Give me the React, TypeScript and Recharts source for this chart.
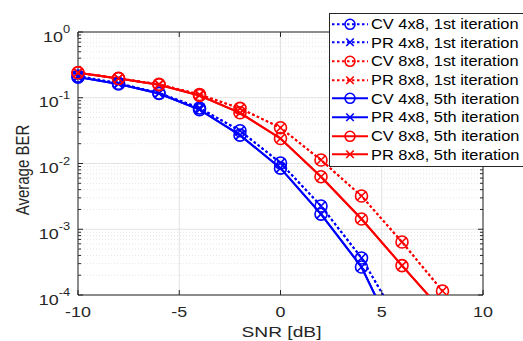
import React from 'react';
import {
  LineChart, Line, XAxis, YAxis, CartesianGrid, ReferenceLine, ReferenceArea, Label,
} from 'recharts';

const FONT = '"Liberation Sans", Arial, Helvetica, sans-serif';
const AXIS = '#262626';
const STRETCH = 1.28;
const PLOT_W = 405;
const PLOT_H = 263;

// SNR in dB
const snr = [-10, -8, -6, -4, -2, 0, 2, 4, 6, 8];

// average BER (CV and PR overlap)
const cv4_1st = [0.214, 0.166, 0.118, 0.07, 0.0315, 0.0102, 0.00226, 0.000366, 0.000032, null];
const pr4_1st = [0.214, 0.166, 0.118, 0.07, 0.0315, 0.0102, 0.00226, 0.000366, 0.000032, null];
const cv8_1st = [0.24, 0.197, 0.16, 0.112, 0.069, 0.035, 0.0113, 0.0032, 0.00064, 0.000115];
const pr8_1st = [0.24, 0.197, 0.16, 0.112, 0.069, 0.035, 0.0113, 0.0032, 0.00064, 0.000115];
const cv4_5th = [0.206, 0.162, 0.116, 0.066, 0.027, 0.0085, 0.0017, 0.000267, 0.000014, null];
const pr4_5th = [0.206, 0.162, 0.116, 0.066, 0.027, 0.0085, 0.0017, 0.000267, 0.000014, null];
const cv8_5th = [0.24, 0.196, 0.158, 0.108, 0.059, 0.024, 0.0063, 0.00143, 0.00028, 0.000057];
const pr8_5th = [0.24, 0.196, 0.158, 0.108, 0.059, 0.024, 0.0063, 0.00143, 0.00028, 0.000057];

const xTicks = [-10, -5, 0, 5, 10];
const yTicks = [0.0001, 0.001, 0.01, 0.1, 1];
const minorGrid = [0.0001, 0.001, 0.01, 0.1].flatMap((d) => [2, 3, 4, 5, 6, 7, 8, 9].map((k) => k * d));

const BLUE = '#0000ff';
const RED = '#ff0000';

const series = [
  { key: 'cv4_1st', values: cv4_1st, name: 'CV 4x8, 1st iteration', color: BLUE, dotted: true, marker: 'o' },
  { key: 'pr4_1st', values: pr4_1st, name: 'PR 4x8, 1st iteration', color: BLUE, dotted: true, marker: 'x' },
  { key: 'cv8_1st', values: cv8_1st, name: 'CV 8x8, 1st iteration', color: RED, dotted: true, marker: 'o' },
  { key: 'pr8_1st', values: pr8_1st, name: 'PR 8x8, 1st iteration', color: RED, dotted: true, marker: 'x' },
  { key: 'cv4_5th', values: cv4_5th, name: 'CV 4x8, 5th iteration', color: BLUE, dotted: false, marker: 'o' },
  { key: 'pr4_5th', values: pr4_5th, name: 'PR 4x8, 5th iteration', color: BLUE, dotted: false, marker: 'x' },
  { key: 'cv8_5th', values: cv8_5th, name: 'CV 8x8, 5th iteration', color: RED, dotted: false, marker: 'o' },
  { key: 'pr8_5th', values: pr8_5th, name: 'PR 8x8, 5th iteration', color: RED, dotted: false, marker: 'x' },
];

const data = snr.map((s, i) => {
  const row: any = { snr: s };
  series.forEach((sr) => { row[sr.key] = sr.values[i]; });
  return row;
});

const Marker = ({ cx, cy, color, marker, r }: any) =>
  marker === 'o' ? (
    <circle cx={cx} cy={cy} r={r} fill="none" stroke={color} strokeWidth={1.6} />
  ) : (
    <g stroke={color} strokeWidth={1.6}>
      <line x1={cx - r * 0.75} y1={cy - r * 0.75} x2={cx + r * 0.75} y2={cy + r * 0.75} />
      <line x1={cx - r * 0.75} y1={cy + r * 0.75} x2={cx + r * 0.75} y2={cy - r * 0.75} />
    </g>
  );

const makeDot = (s: any) => (p: any) => {
  if (p.cx == null || p.cy == null || p.value == null) return <g key={`${s.key}-${p.index}`} />;
  return (
    <g key={`${s.key}-${p.index}`}>
      <Marker cx={p.cx} cy={p.cy} color={s.color} marker={s.marker} r={6} />
    </g>
  );
};

const YTick = ({ x, y, payload }: any) => {
  const exp = Math.round(Math.log10(payload.value));
  return (
    <g>
      <line x1={x} x2={x + 5} y1={y} y2={y} stroke={AXIS} />
      <line x1={x + PLOT_W - 5} x2={x + PLOT_W} y1={y} y2={y} stroke={AXIS} />
      <g transform={`translate(${x - 8},${y}) scale(${STRETCH},1)`}>
        <text x={0} y={9.5} textAnchor="end" fill={AXIS} fontSize={14} fontFamily={FONT}>
          10<tspan dy={-8.5} fontSize={10}>{exp}</tspan>
        </text>
      </g>
    </g>
  );
};

const XTick = ({ x, y, payload }: any) => (
  <g>
    <line x1={x} x2={x} y1={y} y2={y - 5} stroke={AXIS} />
    <line x1={x} x2={x} y1={y - PLOT_H} y2={y - PLOT_H + 5} stroke={AXIS} />
    <g transform={`translate(${x},${y}) scale(${STRETCH},1)`}>
      <text x={0} y={21.7} textAnchor="middle" fill={AXIS} fontSize={14} fontFamily={FONT}>
        {payload.value}
      </text>
    </g>
  </g>
);

const YTitle = ({ viewBox }: any) => {
  const cy = viewBox.y + viewBox.height / 2 + 6.5;
  return (
    <g transform={`translate(29,${cy}) scale(${STRETCH},1) rotate(-90)`}>
      <text x={0} y={0} textAnchor="middle" fill={AXIS} fontSize={15} fontFamily={FONT}>Average BER</text>
    </g>
  );
};

const XTitle = ({ viewBox }: any) => {
  const cx = viewBox.x + viewBox.width / 2 + 1;
  return (
    <g transform={`translate(${cx},${viewBox.y + 42}) scale(${STRETCH},1)`}>
      <text x={0} y={0} textAnchor="middle" fill={AXIS} fontSize={15} fontFamily={FONT}>SNR [dB]</text>
    </g>
  );
};

const LegendBox = () => (
  <div
    style={{
      position: 'absolute', left: 329, top: 12.7,
      border: '1px solid #262626', background: '#fff', width: 210, height: 151,
      paddingTop: 1, fontFamily: FONT, fontSize: 14, color: '#000', boxSizing: 'content-box',
    }}
  >
    {series.map((s) => (
      <div key={s.key} style={{ height: 18.67, display: 'flex', alignItems: 'center' }}>
        <svg width={41} height={18.67} style={{ flex: 'none' }}>
          <line
            x1={2} x2={38} y1={9.3} y2={9.3} stroke={s.color} strokeWidth={2}
            strokeDasharray={s.dotted ? '2.5 2.5' : undefined}
          />
          <Marker cx={20} cy={9.3} color={s.color} marker={s.marker} r={5} />
        </svg>
        <span style={{ display: 'inline-block', whiteSpace: 'nowrap', transform: 'scaleX(1.17)', transformOrigin: 'left center' }}>
          {s.name}
        </span>
      </div>
    ))}
  </div>
);

const App = () => {
  return (
    <div style={{ position: 'fixed', left: 0, top: 0, width: 523, height: 341, overflow: 'hidden', background: '#fff' }}>
      <LineChart width={523} height={341} data={data} margin={{ top: 32, right: 40, bottom: 0, left: 0 }}>
        <CartesianGrid stroke="#e2e2e2" strokeWidth={1} />
        {minorGrid.map((v) => (
          <ReferenceLine key={v} y={v} stroke="#e6e6e6" strokeDasharray="1 2" />
        ))}
        {minorGrid.map((v) => (
          <ReferenceLine key={`l${v}`} segment={[{ x: -10, y: v }, { x: -9.85, y: v }]} stroke={AXIS} />
        ))}
        {minorGrid.map((v) => (
          <ReferenceLine key={`r${v}`} segment={[{ x: 9.85, y: v }, { x: 10, y: v }]} stroke={AXIS} />
        ))}
        <XAxis
          dataKey="snr" type="number" domain={[-10, 10]} ticks={xTicks} height={46}
          tickLine={false} tickSize={0} tickMargin={0} axisLine={false} tick={<XTick />}
        >
          <Label content={<XTitle />} />
        </XAxis>
        <YAxis
          type="number" scale="log" domain={[0.0001, 1]} ticks={yTicks} allowDataOverflow width={78}
          tickLine={false} tickSize={0} tickMargin={0} axisLine={false} tick={<YTick />}
        >
          <Label content={<YTitle />} />
        </YAxis>
        <ReferenceArea x1={-10} x2={10} y1={0.0001} y2={1} fill="none" stroke={AXIS} strokeWidth={1} />
        {series.map((s) => (
          <Line
            key={s.key} dataKey={s.key} name={s.name} stroke={s.color} strokeWidth={2}
            strokeDasharray={s.dotted ? '2.5 2.5' : undefined} type="linear"
            dot={makeDot(s)} activeDot={false} isAnimationActive={false} connectNulls={false}
          />
        ))}
      </LineChart>
      <LegendBox />
    </div>
  );
};

export default App;
